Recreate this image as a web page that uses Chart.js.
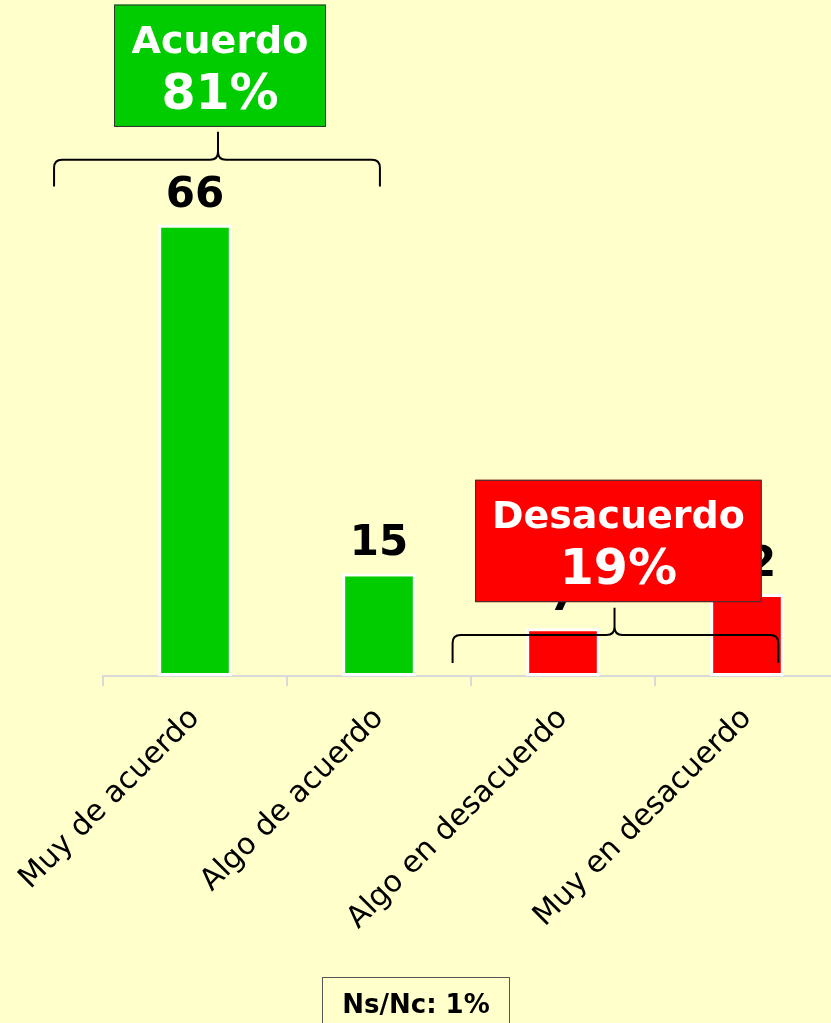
<!DOCTYPE html>
<html>
<head>
<meta charset="utf-8">
<script src="https://cdn.jsdelivr.net/npm/chart.js@4/dist/chart.umd.min.js"></script>
<style>
  html, body { margin: 0; padding: 0; background: #FFFFCC; overflow: hidden; }
  canvas { display: block; }
</style>
</head>
<body>
<canvas id="grafico" width="845" height="1023"></canvas>
<script>
// datos del grafico
const categorias = ["Muy de acuerdo", "Algo de acuerdo", "Algo en desacuerdo", "Muy en desacuerdo"];
const valores = [66, 15, 7, 12];
const coloresBarras = ["#00CC00", "#00CC00", "#FF0000", "#FF0000"];
const gruposTitulo = ["Acuerdo", "Desacuerdo"];
const gruposTotal = ["81%", "19%"];
const nsnc = "Ns/Nc: 1%";

const FUENTE = "'DejaVu Sans', sans-serif";

// posiciones de llaves y recuadros (en unidades de las escalas: indice de categoria / valor)
const llaves = [
  { x1: -0.766, x2: 1.005, xm: 0.125, yTop: 75.5, yEnd: 71.6, yTip: 79.6 },
  { x1: 1.40, x2: 3.17, xm: 2.28, yTop: 6.0, yEnd: 1.9, yTip: 10.0 }
];
const recuadros = [
  { x1: -0.44, x2: 0.712, y1: 98.2, y2: 80.3, color: "#00CC00" },
  { x1: 1.522, x2: 3.08, y1: 28.7, y2: 10.8, color: "#FF0000" }
];

function dibujarLlave(ctx, x1, x2, xm, yTop, yEnd, yTip) {
  const r = 8;
  ctx.beginPath();
  ctx.moveTo(x1, yEnd);
  ctx.lineTo(x1, yTop + r);
  ctx.quadraticCurveTo(x1, yTop, x1 + r, yTop);
  ctx.lineTo(xm - r, yTop);
  ctx.quadraticCurveTo(xm, yTop, xm, yTop - r);
  ctx.lineTo(xm, yTip);
  ctx.moveTo(xm, yTop - r);
  ctx.quadraticCurveTo(xm, yTop, xm + r, yTop);
  ctx.lineTo(x2 - r, yTop);
  ctx.quadraticCurveTo(x2, yTop, x2, yTop + r);
  ctx.lineTo(x2, yEnd);
  ctx.stroke();
}

const anotaciones = {
  id: "anotaciones",
  afterDatasetsDraw(chart) {
    // etiquetas de valor encima de cada barra
    const ctx = chart.ctx;
    const meta = chart.getDatasetMeta(0);
    ctx.save();
    ctx.fillStyle = "#000";
    ctx.font = "bold 42px " + FUENTE;
    ctx.textAlign = "center";
    ctx.textBaseline = "alphabetic";
    meta.data.forEach((bar, i) => {
      ctx.fillText(String(valores[i]), bar.x, bar.y - 18);
    });
    ctx.restore();
  },
  afterDraw(chart) {
    const ctx = chart.ctx;
    const sx = chart.scales.x;
    const sy = chart.scales.y;
    ctx.save();

    // llaves
    ctx.strokeStyle = "#000";
    ctx.lineWidth = 2;
    llaves.forEach((l) => {
      dibujarLlave(ctx,
        sx.getPixelForValue(l.x1), sx.getPixelForValue(l.x2), sx.getPixelForValue(l.xm),
        sy.getPixelForValue(l.yTop), sy.getPixelForValue(l.yEnd), sy.getPixelForValue(l.yTip));
    });

    // recuadros de resumen
    recuadros.forEach((b, i) => {
      const left = sx.getPixelForValue(b.x1);
      const right = sx.getPixelForValue(b.x2);
      const top = sy.getPixelForValue(b.y1);
      const bottom = sy.getPixelForValue(b.y2);
      ctx.fillStyle = b.color;
      ctx.fillRect(left, top, right - left, bottom - top);
      ctx.strokeStyle = "#333";
      ctx.lineWidth = 1;
      ctx.strokeRect(left + 0.5, top + 0.5, right - left - 1, bottom - top - 1);
      const cx = (left + right) / 2;
      ctx.fillStyle = "#fff";
      ctx.textAlign = "center";
      ctx.textBaseline = "alphabetic";
      ctx.font = "bold 38px " + FUENTE;
      ctx.fillText(gruposTitulo[i], cx, top + 48);
      ctx.font = "bold 49px " + FUENTE;
      ctx.fillText(gruposTotal[i], cx, top + 104);
    });

    // Ns/Nc
    ctx.fillStyle = "#FFFFCC";
    ctx.fillRect(322, 977, 188, 60);
    ctx.strokeStyle = "#555";
    ctx.lineWidth = 1;
    ctx.strokeRect(322.5, 977.5, 187, 60);
    ctx.fillStyle = "#000";
    ctx.font = "bold 26px " + FUENTE;
    ctx.textAlign = "center";
    ctx.fillText(nsnc, 416, 1013);
    ctx.restore();
  }
};

new Chart(document.getElementById("grafico"), {
  type: "bar",
  data: {
    labels: categorias,
    datasets: [{
      data: valores,
      backgroundColor: coloresBarras,
      borderColor: "#FFFFFF",
      borderWidth: 3,
      borderSkipped: false,
      barPercentage: 0.4,
      categoryPercentage: 1
    }]
  },
  options: {
    responsive: false,
    animation: false,
    layout: { padding: { left: 103, right: 6, top: 129, bottom: 0 } },
    plugins: { legend: { display: false }, tooltip: { enabled: false } },
    scales: {
      x: {
        grid: {
          offset: true,
          drawOnChartArea: false,
          drawTicks: true,
          tickLength: 10,
          color: "#D9D9D9",
          lineWidth: 2
        },
        border: { display: true, color: "#D9D9D9", width: 2 },
        ticks: {
          color: "#000",
          font: { family: FUENTE, size: 30 },
          minRotation: 45,
          maxRotation: 45,
          autoSkip: false,
          padding: 15
        },
        afterFit(scale) {
          scale.height = 1023 - 676;
          scale.paddingLeft = 0;
          scale.paddingRight = 0;
        }
      },
      y: { display: false, min: 0, max: 80 }
    }
  },
  plugins: [anotaciones]
});
</script>
</body>
</html>
